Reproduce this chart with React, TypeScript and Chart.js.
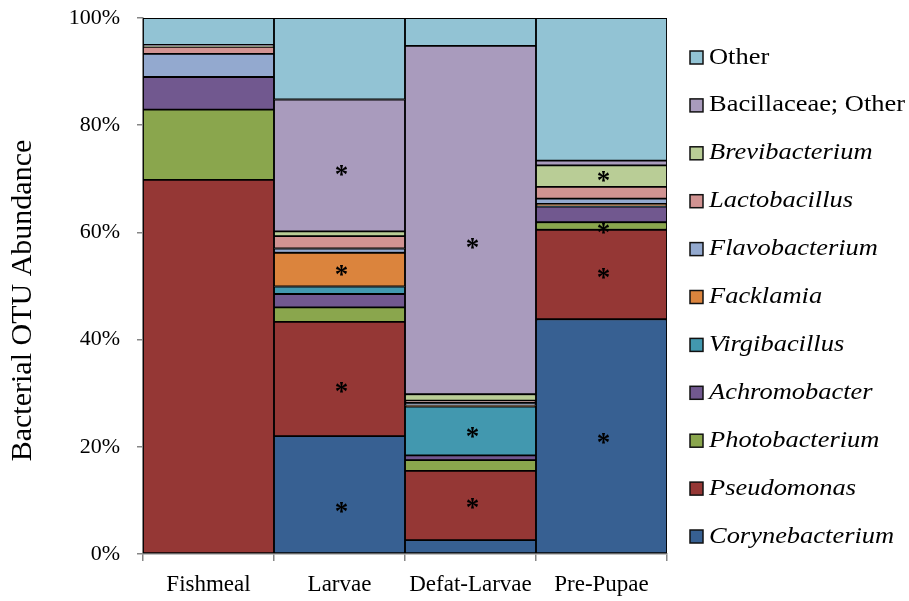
import { useEffect, useRef } from 'react';
import { Chart, registerables } from 'chart.js';

Chart.register(...registerables);

const categories = ['Fishmeal', 'Larvae', 'Defat-Larvae', 'Pre-Pupae'];

// stacked from bottom to top (percent of bacterial OTU abundance)
const corynebacterium = [0, 22.0, 2.6, 43.8];
const pseudomonas = [69.8, 21.3, 12.9, 16.7];
const photobacterium = [13.1, 2.7, 2.0, 1.4];
const achromobacter = [6.1, 2.5, 0.9, 2.9];
const virgibacillus = [0, 1.4, 9.1, 0.1];
const facklamia = [0, 6.3, 0.2, 0.4];
const flavobacterium = [4.3, 0.8, 0.5, 1.0];
const lactobacillus = [1.3, 2.3, 0.4, 2.2];
const brevibacterium = [0.2, 0.9, 1.2, 4.0];
const bacillaceaeOther = [0.2, 24.6, 65.0, 0.9];
const other = [5.0, 15.2, 5.2, 26.6];

const seriesNames = [
  'Corynebacterium', 'Pseudomonas', 'Photobacterium', 'Achromobacter', 'Virgibacillus',
  'Facklamia', 'Flavobacterium', 'Lactobacillus', 'Brevibacterium', 'Bacillaceae; Other', 'Other',
];
const seriesValues = [
  corynebacterium, pseudomonas, photobacterium, achromobacter, virgibacillus,
  facklamia, flavobacterium, lactobacillus, brevibacterium, bacillaceaeOther, other,
];
const seriesItalic = [true, true, true, true, true, true, true, true, true, false, false];
const seriesColors = [
  '#376092', '#953735', '#8AA64D', '#71588F', '#4298AF',
  '#DB843D', '#93A9CF', '#D19392', '#B9CD96', '#A99BBD', '#92C3D4',
];

// significance asterisks: category and the value (%) where each sits
const starCategories = ['Larvae', 'Larvae', 'Larvae', 'Larvae', 'Defat-Larvae', 'Defat-Larvae', 'Defat-Larvae', 'Pre-Pupae', 'Pre-Pupae', 'Pre-Pupae', 'Pre-Pupae'];
const starValues = [8.8, 31.2, 53.0, 71.6, 9.5, 22.8, 58.0, 21.6, 52.4, 60.8, 70.5];

const yTicks = [0, 20, 40, 60, 80, 100];
const yTitle = 'Bacterial OTU Abundance';

const FONT = '"Liberation Serif", "Times New Roman", Times, serif';

const overlayPlugin = {
  id: 'overlay',
  afterDatasetsDraw(chart: any) {
    const ctx = chart.ctx as CanvasRenderingContext2D;
    const xs = chart.scales.x;
    const ys = chart.scales.y;

    // asterisks
    ctx.save();
    ctx.fillStyle = '#000';
    ctx.font = `bold 27px ${FONT}`;
    ctx.textAlign = 'center';
    ctx.textBaseline = 'alphabetic';
    starCategories.forEach((c, i) => {
      const x = xs.getPixelForValue(categories.indexOf(c));
      const y = ys.getPixelForValue(starValues[i]);
      ctx.fillText('*', x + 2, y + 13);
    });
    ctx.restore();

    // legend (reverse order, top = last series)
    ctx.save();
    const n = seriesNames.length;
    for (let j = 0; j < n; j++) {
      const i = n - 1 - j;
      const cy = 57.5 + 47.9 * j;
      ctx.fillStyle = seriesColors[i];
      ctx.fillRect(690, cy - 6.5, 13, 13);
      ctx.strokeStyle = '#111';
      ctx.lineWidth = 1.5;
      ctx.strokeRect(690, cy - 6.5, 13, 13);
      ctx.save();
      ctx.translate(709, cy);
      ctx.scale(1.15, 1);
      ctx.fillStyle = '#000';
      ctx.font = `${seriesItalic[i] ? 'italic ' : ''}23px ${FONT}`;
      ctx.textAlign = 'left';
      ctx.textBaseline = 'middle';
      ctx.fillText(seriesNames[i], 0, 0);
      ctx.restore();
    }
    ctx.restore();

    // y axis title, centred on the whole chart height
    ctx.save();
    ctx.translate(23, chart.height / 2);
    ctx.rotate(-Math.PI / 2);
    ctx.fillStyle = '#000';
    ctx.font = `30px ${FONT}`;
    ctx.textAlign = 'center';
    ctx.textBaseline = 'middle';
    ctx.fillText(yTitle, 0, 0);
    ctx.restore();
  },
};

export default function App() {
  const ref = useRef<HTMLCanvasElement>(null);
  useEffect(() => {
    const chart = new Chart(ref.current as HTMLCanvasElement, {
      type: 'bar',
      data: {
        labels: categories,
        datasets: seriesValues.map((d, i) => ({
          label: seriesNames[i],
          data: d,
          backgroundColor: seriesColors[i],
          borderColor: '#000',
          borderWidth: 1.25,
          borderSkipped: false,
          categoryPercentage: 1,
          barPercentage: 1,
        })),
      },
      options: {
        responsive: true,
        maintainAspectRatio: false,
        animation: false,
        layout: { padding: { top: 18, right: 242, bottom: 0, left: 0 } },
        plugins: { legend: { display: false }, tooltip: { enabled: false } },
        scales: {
          x: {
            stacked: true,
            grid: { drawOnChartArea: false, tickLength: 7, color: '#868686', lineWidth: 1.5 },
            border: { color: '#868686', width: 1.5 },
            ticks: { font: { family: FONT, size: 23 }, color: '#000', padding: 10 },
            afterFit: (s: any) => { s.height = 47; s.paddingLeft = 0; s.paddingRight = 0; },
          },
          y: {
            stacked: true,
            min: 0,
            max: 100,
            afterBuildTicks: (s: any) => { s.ticks = yTicks.map((v) => ({ value: v })); },
            ticks: { callback: (v: any) => v + '%', font: { family: FONT, size: 22 }, color: '#000', padding: 17 },
            grid: { drawOnChartArea: false, tickLength: 6, color: '#868686', lineWidth: 1.5 },
            border: { color: '#868686', width: 1.5 },
            afterFit: (s: any) => { s.width = 143; s.paddingTop = 0; s.paddingBottom = 0; },
          },
        },
      },
      plugins: [overlayPlugin],
    });
    return () => chart.destroy();
  }, []);
  return (
    <div style={{ position: 'absolute', left: 0, top: 0, width: 909, height: 601 }}>
      <canvas ref={ref} />
    </div>
  );
}
